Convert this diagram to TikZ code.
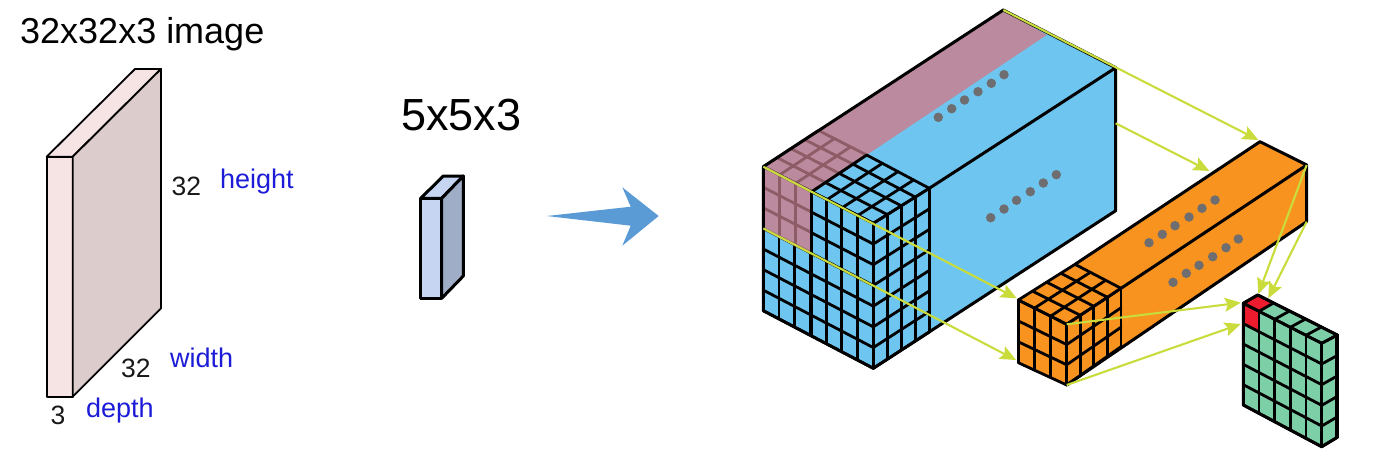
\documentclass[tikz,border=0pt]{standalone}
\usepackage{fontspec}
\setmainfont{Liberation Sans}
\usetikzlibrary{calc,arrows.meta}
\definecolor{skyb}{HTML}{6EC6F0}
\definecolor{pinkb}{HTML}{BB8A9E}
\definecolor{brownl}{HTML}{8E5C66}
\definecolor{orangeb}{HTML}{F7931E}
\definecolor{greenb}{HTML}{7DCFA8}
\definecolor{redb}{HTML}{EC1C2E}
\definecolor{dotg}{HTML}{6E6E70}
\definecolor{lime}{HTML}{C9DC3C}
\definecolor{labelblue}{HTML}{1C1CD8}
\definecolor{slabf}{HTML}{F6E3E3}
\definecolor{slabs}{HTML}{DCCCCC}
\definecolor{filtf}{HTML}{C5D5F2}
\definecolor{filts}{HTML}{9FADC6}
\definecolor{bigarrow}{HTML}{5B9BD5}
% \gridface{a}{b}{d}{c}{nu}{nv}: parallelogram a-b-c-d, nu cells a->b, nv cells a->d
\newcommand{\gridface}[7][]{%
  \foreach \i in {0,...,#6}{\draw[#1] ($(#2)!\i/#6!(#3)$) -- ($(#4)!\i/#6!(#5)$);}%
  \foreach \j in {0,...,#7}{\draw[#1] ($(#2)!\j/#7!(#4)$) -- ($(#3)!\j/#7!(#5)$);}%
}
\tikzset{
  edge/.style={draw=black,line width=3pt,line join=round,line cap=round},
  cell/.style={black,line width=2.8pt,line cap=round},
  pinkcell/.style={brownl,line width=2.8pt},
  proj/.style={lime,line width=2.1pt,-{Stealth[length=16pt,width=14pt,inset=3pt]}},
  thin slab/.style={draw=black,line width=1.8pt,line join=round},
  txt/.style={inner sep=0pt,anchor=base west,text=black},
  lbl/.style={inner sep=0pt,anchor=base west,text=labelblue,font=\fontsize{27}{30}\selectfont},
  num/.style={inner sep=0pt,anchor=base west,text=black!90,font=\fontsize{26.5}{30}\selectfont},
  dot/.style={fill=dotg,circle,inner sep=0pt,minimum size=9.5pt},
}
\begin{document}
\begin{tikzpicture}[x=1pt,y=-1pt]
\useasboundingbox (0,0) rectangle (1377,456);
% ---- input slab
\coordinate (sa) at (46.7,156.7); \coordinate (sb) at (72.7,156.7);
\coordinate (sc) at (72.7,396.7); \coordinate (sd) at (46.7,396.7);
\coordinate (se) at (135,69); \coordinate (sf) at (161,69); \coordinate (sg) at (161,308.3);
\filldraw[thin slab,fill=slabf] (sa)--(sb)--(sc)--(sd)--cycle;
\filldraw[thin slab,fill=slabf] (sa)--(se)--(sf)--(sb)--cycle;
\filldraw[thin slab,fill=slabs] (sb)--(sf)--(sg)--(sc)--cycle;
\node[txt,font=\fontsize{36}{40}\selectfont] (title) at (20,43.5) {32x32x3 image};
\node[num] (n32a) at (171.5,195) {32};
\node[lbl] (lh) at (220,188) {height};
\node[num] (n32b) at (121,377) {32};
\node[lbl] (lw) at (170,367.5) {width};
\node[num] (n3) at (50.5,424) {3};
\node[lbl] (ld) at (86,417.5) {depth};
% ---- filter
\coordinate (fa) at (420.7,198.3); \coordinate (fb) at (441.7,198.3);
\coordinate (fc) at (441.7,298.3); \coordinate (fd) at (420.7,298.3);
\coordinate (fe) at (443.3,176); \coordinate (ff) at (463.3,176); \coordinate (fg) at (463.3,276);
\filldraw[edge,fill=filtf] (fa)--(fb)--(fc)--(fd)--cycle;
\filldraw[edge,fill=filtf] (fa)--(fe)--(ff)--(fb)--cycle;
\filldraw[edge,fill=filts] (fb)--(ff)--(fg)--(fc)--cycle;
\node[txt,font=\fontsize{45}{48}\selectfont] (ftitle) at (401,130) {5x5x3};
% ---- big arrow
\fill[bigarrow] (546.7,216)--(630.7,206.7)--(622.3,187.3)--(658.7,216)--(622.3,245.7)--(630.7,225.7)--cycle;
% ---- large volume
\coordinate (A) at (763.3,166.7); \coordinate (T) at (1003.3,10); \coordinate (S) at (1115.7,67.7);
\coordinate (R) at (929.3,188.3); \coordinate (C) at (873.3,223.3); \coordinate (L) at (811.7,191.7);
\coordinate (K) at (866.7,155); \coordinate (Kp) at (818.3,130.4); \coordinate (Tp) at (1046.7,35);
\coordinate (Ab) at (763.3,310.7); \coordinate (Cb) at (873.3,368.3); \coordinate (Rb) at (929.3,332);
\coordinate (Sb) at (1115.7,210.7);
\coordinate (Am) at (763.3,228.4); \coordinate (Lm) at (811.7,253.2); \coordinate (Lb) at (811.7,336);
\fill[skyb] (A)--(T)--(S)--(Sb)--(Cb)--(Ab)--cycle;
\fill[pinkb] (A)--(T)--(Tp)--(K)--(L)--cycle;
\gridface[pinkcell]{A}{L}{Kp}{K}{3}{4}
\gridface[cell]{A}{C}{Ab}{Cb}{7}{7}
\fill[pinkb] (A)--(L)--(Lm)--(Am)--cycle;
\gridface[pinkcell]{A}{L}{Am}{Lm}{3}{3}
\gridface[cell]{L}{C}{K}{R}{4}{4}
\gridface[cell]{C}{R}{Cb}{Rb}{4}{7}
\draw[cell] (A)--(Ab);
\draw[cell] (L)--(Lb);
\draw[edge] (A)--(T)--(S)--(Sb)--(Cb)--(Ab)--(A);
\draw[edge] (R)--(S);
\foreach \p in {(938.3,117.3),(951.7,108.7),(964.5,100),(978,91.7),(991.3,83.3),(1004,74.7),
                (990.7,217.7),(1004,209),(1016.5,200.3),(1030.3,191.7),(1043.3,183),(1056.3,174.7)}
  \node[dot] at \p {};
% ---- orange volume
\coordinate (a) at (1018.3,300); \coordinate (ab) at (1018.3,362.7);
\coordinate (c) at (1066.7,324.3); \coordinate (cb) at (1066.7,385);
\coordinate (r) at (1121,288.3); \coordinate (rb) at (1121,346.7);
\coordinate (k) at (1075,264.3); \coordinate (t) at (1260,141.7);
\coordinate (s) at (1306.7,165); \coordinate (sbb) at (1306.7,221.7);
\fill[orangeb] (a)--(k)--(t)--(s)--(sbb)--(cb)--(ab)--cycle;
\gridface[cell]{a}{c}{k}{r}{3}{4}
\gridface[cell]{a}{c}{ab}{cb}{3}{3}
\gridface[cell]{c}{r}{cb}{rb}{4}{3}
\draw[edge] (k)--(t)--(s)--(sbb)--(cb);
\draw[edge] (r)--(s);
\foreach \p in {(1149,242.7),(1162.3,234.3),(1175,225.7),(1189,217),(1202,208.3),(1215,200),
                (1173,282.3),(1186.3,273.3),(1199,265.3),(1212.7,256.7),(1226,247.7),(1238.3,239)}
  \node[dot] at \p {};
% ---- green output
\coordinate (ga) at (1243.3,303.3); \coordinate (gb) at (1243.3,405);
\coordinate (gc) at (1321.7,343.3); \coordinate (gd) at (1321.7,446.7);
\coordinate (ge) at (1337.3,335); \coordinate (gf) at (1337.3,437.3);
\coordinate (gt) at (1257.7,295);
\coordinate (ga1) at ($(ga)!0.2!(gc)$); \coordinate (gt1) at ($(gt)!0.2!(ge)$);
\coordinate (ga2) at ($(ga)!0.2!(gb)$); \coordinate (ga3) at ($(ga2)+(ga1)-(ga)$);
\fill[greenb] (ga)--(gt)--(ge)--(gf)--(gd)--(gb)--cycle;
\fill[redb] (ga)--(gt)--(gt1)--(ga1)--(ga3)--(ga2)--cycle;
\gridface[cell]{ga}{gc}{gb}{gd}{5}{5}
\gridface[cell]{ga}{gc}{gt}{ge}{5}{1}
\gridface[cell]{gc}{ge}{gd}{gf}{1}{5}
\draw[edge] (ga)--(gt)--(ge)--(gf)--(gd)--(gb)--(ga);
\draw[black,line width=4pt] (ge)--(gf);
% ---- projection lines
\coordinate (p1) at (1258.3,140); \coordinate (p2s) at (1115.7,123.3); \coordinate (p2) at (1209.3,171);
\coordinate (p3) at (1016.7,298.3); \coordinate (p4) at (1016,360);
\coordinate (p5) at (1258.3,294); \coordinate (p6) at (1268.3,298.3);
\coordinate (p7) at (1240.7,302.7); \coordinate (p8) at (1240.7,324);
\draw[proj] (T)--(p1);
\draw[proj] (p2s)--(p2);
\draw[proj] (A)--(p3);
\draw[proj] (Am)--(p4);
\draw[proj] (s)--(p5);
\draw[proj] (sbb)--(p6);
\draw[proj] (c)--(p7);
\draw[proj] (cb)--(p8);
\end{tikzpicture}
\end{document}
